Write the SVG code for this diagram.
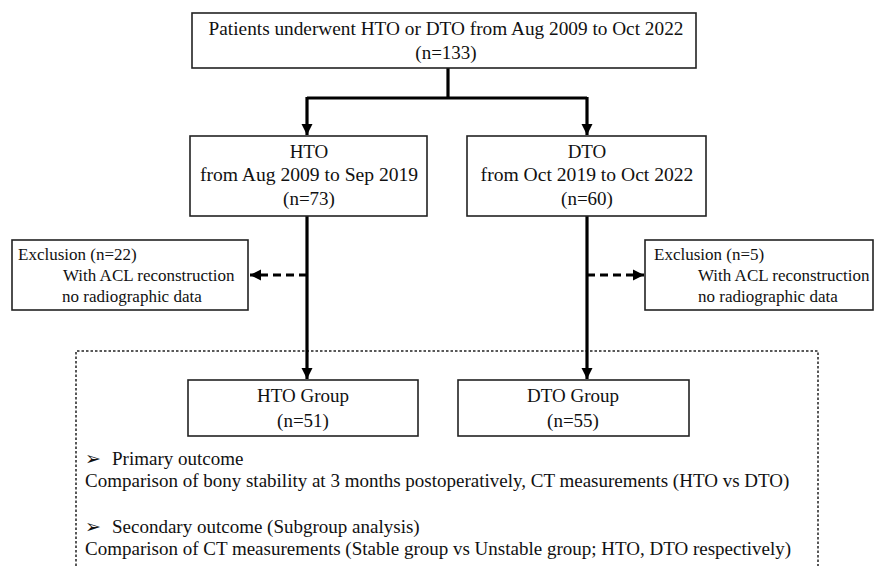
<svg xmlns="http://www.w3.org/2000/svg" width="876" height="566" viewBox="0 0 876 566">
<defs>
<style>
.box{fill:#fff;stroke:#222;stroke-width:1.6}
.t{font-family:"Liberation Serif","Times New Roman",serif;font-size:19px;fill:#111}
.s{font-size:17px}
.c{text-anchor:middle}
.ln{fill:none;stroke:#000;stroke-width:3.2}
.dash{fill:none;stroke:#000;stroke-width:3.2;stroke-dasharray:8 5}
.dot{fill:none;stroke:#222;stroke-width:1.5;stroke-dasharray:2.5 2}
</style>
<marker id="ah" markerUnits="userSpaceOnUse" markerWidth="12" markerHeight="12" refX="11" refY="6" orient="auto">
<path d="M0,0.5 L11,6 L0,11.5 Z" fill="#000"/>
</marker>
</defs>
<rect width="876" height="566" fill="#fff"/>
<g id="dotted-region"><path class="dot" d="M76,566 V351 H818 V566"/></g>
<g id="connectors">
<path class="ln" d="M448,68 V98"/>
<path class="ln" d="M307,98 H587"/>
<path class="ln" d="M307,97 V135" marker-end="url(#ah)"/>
<path class="ln" d="M587,97 V135" marker-end="url(#ah)"/>
<path class="ln" d="M307,216 V379" marker-end="url(#ah)"/>
<path class="ln" d="M587,216 V379" marker-end="url(#ah)"/>
<path class="dash" d="M307,275 H250" marker-end="url(#ah)"/>
<path class="dash" d="M587,275 H644" marker-end="url(#ah)"/>
</g>
<g id="top">
<rect class="box" x="192" y="13" width="504" height="55"/>
<text class="t c" x="446" y="35" style="font-size:19.3px">Patients underwent HTO or DTO from Aug 2009 to Oct 2022</text>
<text class="t c" x="446" y="59">(n=133)</text>
</g>
<g id="hto">
<rect class="box" x="190" y="136" width="237" height="80"/>
<text class="t c" x="309" y="158">HTO</text>
<text class="t c" x="309" y="181" style="font-size:19.6px">from Aug 2009 to Sep 2019</text>
<text class="t c" x="309" y="205">(n=73)</text>
</g>
<g id="dto">
<rect class="box" x="467" y="136" width="239" height="80"/>
<text class="t c" x="587" y="158">DTO</text>
<text class="t c" x="587" y="181" style="font-size:19.6px">from Oct 2019 to Oct 2022</text>
<text class="t c" x="587" y="205">(n=60)</text>
</g>
<g id="excl-left">
<rect class="box" x="12" y="240" width="236" height="70"/>
<text class="t s" x="18" y="260">Exclusion (n=22)</text>
<text class="t s" x="63" y="281">With ACL reconstruction</text>
<text class="t s" x="62" y="302">no radiographic data</text>
</g>
<g id="excl-right">
<rect class="box" x="645" y="240" width="228" height="70"/>
<text class="t s" x="654" y="260">Exclusion (n=5)</text>
<text class="t s" x="698" y="281">With ACL reconstruction</text>
<text class="t s" x="698" y="302">no radiographic data</text>
</g>
<g id="hto-group">
<rect class="box" x="188" y="380" width="230" height="56"/>
<text class="t c" x="303" y="402">HTO Group</text>
<text class="t c" x="303" y="427">(n=51)</text>
</g>
<g id="dto-group">
<rect class="box" x="458" y="380" width="231" height="56"/>
<text class="t c" x="573" y="402">DTO Group</text>
<text class="t c" x="573" y="427">(n=55)</text>
</g>
<g id="outcomes">
<text class="t" x="85" y="465">➢</text>
<text class="t" x="112" y="465">Primary outcome</text>
<text class="t" x="85" y="487">Comparison of bony stability at 3 months postoperatively, CT measurements (HTO vs DTO)</text>
<text class="t" x="85" y="533">➢</text>
<text class="t" x="112" y="533">Secondary outcome (Subgroup analysis)</text>
<text class="t" x="85" y="555">Comparison of CT measurements (Stable group vs Unstable group; HTO, DTO respectively)</text>
</g>
</svg>
